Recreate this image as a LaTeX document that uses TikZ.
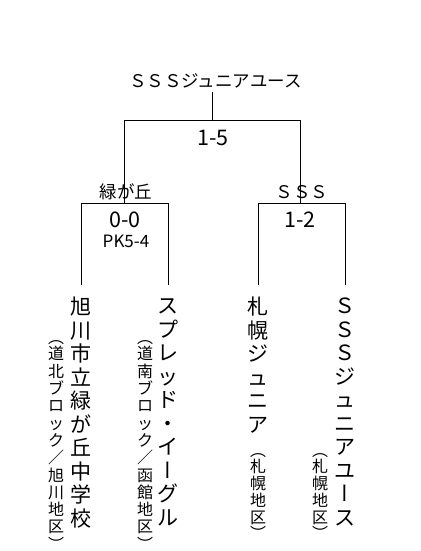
\documentclass[tikz,border=0pt]{standalone}
\usepackage{fontspec}
\newfontfamily\jp{Noto Sans CJK JP}
\newfontfamily\jpv[RawFeature=+vert]{Noto Sans CJK JP}
\tikzset{
  lbl/.style={inner sep=0pt, font=\jp\fontsize{17.5pt}{20pt}\selectfont},
  score/.style={inner sep=0pt, font=\jp\fontsize{21.5pt}{24pt}\selectfont},
  pk/.style={inner sep=0pt, font=\jp\fontsize{17pt}{20pt}\selectfont},
  team/.style={inner sep=0pt, anchor=north, align=center, font=\jp\fontsize{21pt}{23.5pt}\selectfont},
  areaL/.style={inner sep=0pt, anchor=north, align=center, font=\jp\fontsize{16pt}{17.3pt}\selectfont},
  areaS/.style={inner sep=0pt, anchor=north, align=center, font=\jp\fontsize{16pt}{16.7pt}\selectfont},
  bracket/.style={line width=0.9pt, black},
}
\begin{document}
\begin{tikzpicture}[x=1pt,y=-1pt]
\useasboundingbox[fill=white] (0,0) rectangle (420,551);
% labels
\node[lbl] (champ) at (215.5,81) {ＳＳＳジュニアユース};
\node[score] (final) at (213,138) {1-5};
\node[lbl] (w1) at (126,192) {緑が丘};
\node[lbl] (w2) at (302,192) {ＳＳＳ};
\node[score] (sf1) at (125,220) {0-0};
\node[pk] (pk1) at (126,241) {PK5-4};
\node[score] (sf2) at (300,220) {1-2};
% teams
\node[team] (t1) at (81,297) {\vphantom{国}旭\\川\\市\\立\\緑\\が\\丘\\中\\学\\校};
\node[team] (t2) at (168,297) {\vphantom{国}ス\\プ\\レ\\ッ\\ド\\・\\イ\\{\jpv ー}\\グ\\ル};
\node[team] (t3) at (258,297) {\vphantom{国}札\\幌\\ジ\\ュ\\ニ\\ア};
\node[team] (t4) at (345,297) {\vphantom{国}Ｓ\\Ｓ\\Ｓ\\ジ\\ュ\\ニ\\ア\\ユ\\{\jpv ー}\\ス};
% areas
\node[areaL] (a1) at (56,330.5) {\vphantom{国}{\jpv （}\\[-0.8pt]道\\北\\ブ\\ロ\\ッ\\ク\\／\\旭\\川\\地\\区\\{\jpv ）}};
\node[areaL] (a2) at (145,330.5) {\vphantom{国}{\jpv （}\\[-0.8pt]道\\南\\ブ\\ロ\\ッ\\ク\\／\\函\\館\\地\\区\\{\jpv ）}};
\node[areaS] (a3) at (258,443.3) {\vphantom{国}{\jpv （}\\札\\幌\\地\\区\\{\jpv ）}};
\node[areaS] (a4) at (320,443.3) {\vphantom{国}{\jpv （}\\札\\幌\\地\\区\\{\jpv ）}};
% bracket coordinates
\coordinate (cTop) at (212,92);
\coordinate (fL) at (124,120);
\coordinate (fR) at (300,120);
\coordinate (sA) at (124,203);
\coordinate (sB) at (300,203);
\coordinate (s1R) at (168,203);
\coordinate (s2R) at (345,203);
\coordinate (e1) at ([yshift=12pt]t1.north);
\coordinate (e2) at ([yshift=12pt]t2.north);
\coordinate (e3) at ([yshift=12pt]t3.north);
\coordinate (e4) at ([yshift=12pt]t4.north);
% connectors
\draw[bracket] (cTop) -- (cTop |- fL);
\draw[bracket] (sA) -- (fL) -- (fR) -- (sB);
\draw[bracket] (e1) |- (s1R) -- (e2);
\draw[bracket] (e3) |- (s2R) -- (e4);
\end{tikzpicture}
\end{document}
